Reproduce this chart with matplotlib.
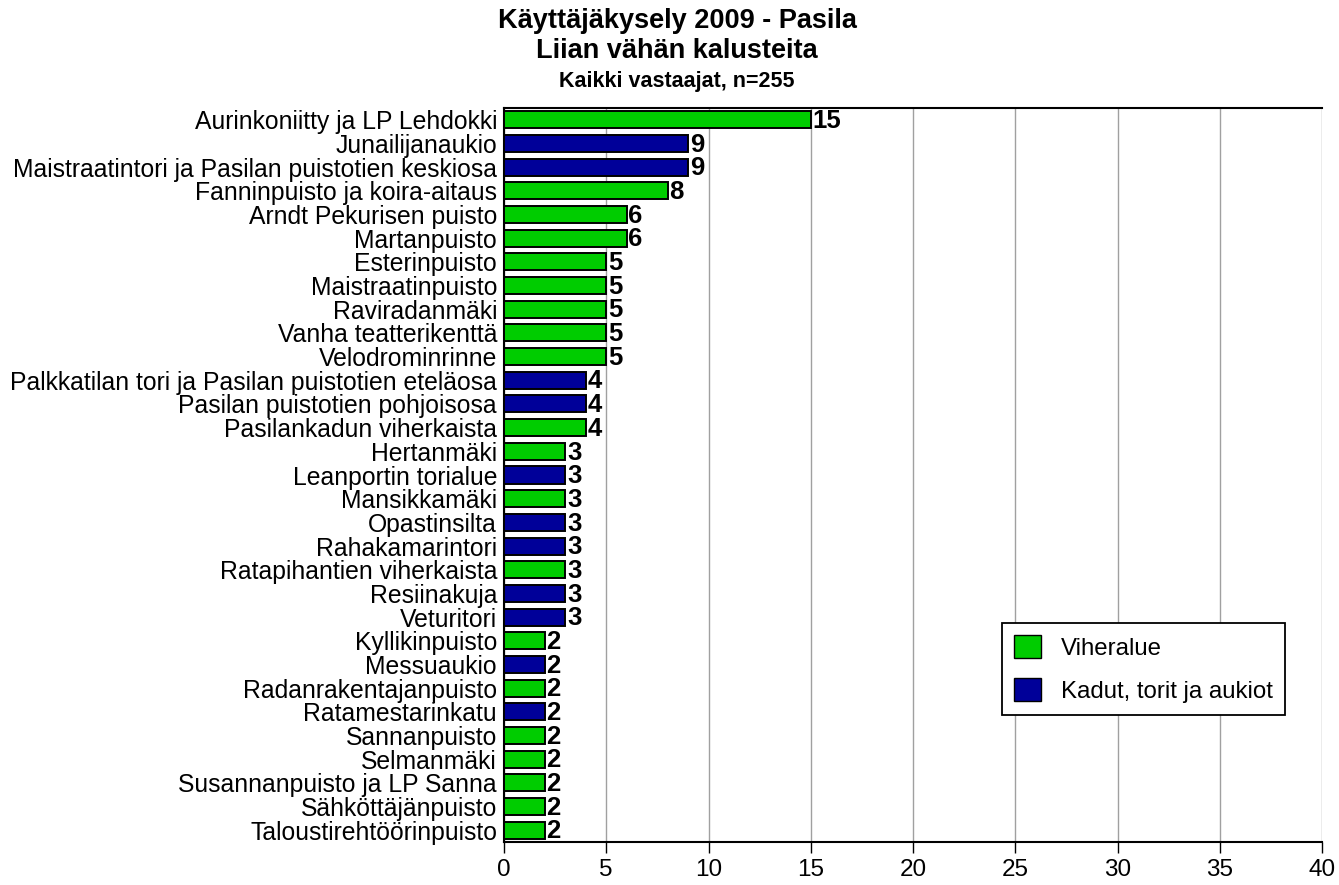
import numpy as np
import matplotlib.pyplot as plt
from matplotlib.patches import Patch

plt.rcParams['font.family'] = ['Liberation Sans', 'DejaVu Sans']

# Data
categories = [
    "Aurinkoniitty ja LP Lehdokki", "Junailijanaukio",
    "Maistraatintori ja Pasilan puistotien keskiosa", "Fanninpuisto ja koira-aitaus",
    "Arndt Pekurisen puisto", "Martanpuisto", "Esterinpuisto", "Maistraatinpuisto",
    "Raviradanmäki", "Vanha teatterikenttä", "Velodrominrinne",
    "Palkkatilan tori ja Pasilan puistotien eteläosa", "Pasilan puistotien pohjoisosa",
    "Pasilankadun viherkaista", "Hertanmäki", "Leanportin torialue", "Mansikkamäki",
    "Opastinsilta", "Rahakamarintori", "Ratapihantien viherkaista", "Resiinakuja",
    "Veturitori", "Kyllikinpuisto", "Messuaukio", "Radanrakentajanpuisto",
    "Ratamestarinkatu", "Sannanpuisto", "Selmanmäki", "Susannanpuisto ja LP Sanna",
    "Sähköttäjänpuisto", "Taloustirehtöörinpuisto",
]
values = [15, 9, 9, 8, 6, 6, 5, 5, 5, 5, 5, 4, 4, 4, 3, 3, 3, 3, 3, 3, 3, 3,
          2, 2, 2, 2, 2, 2, 2, 2, 2]
# V = viheralue, K = kadut, torit ja aukiot
types = ["V", "K", "K", "V", "V", "V", "V", "V", "V", "V", "V", "K", "K", "V",
         "V", "K", "V", "K", "K", "V", "K", "K", "V", "K", "V", "K", "V", "V",
         "V", "V", "V"]

GREEN = "#00CC00"
NAVY = "#000099"
colors = [GREEN if t == "V" else NAVY for t in types]

fig = plt.figure(figsize=(13.39, 8.85), dpi=100)
ax = fig.add_axes([504 / 1339, 1 - 842 / 885, 818 / 1339, 734 / 885])

y = np.arange(len(categories))
ax.barh(y, values, height=0.72, color=colors, edgecolor="black", linewidth=1.4, zorder=3)
for yi, v in zip(y, values):
    ax.text(v + 0.08, yi + 0.05, str(v), va="center", ha="left", fontsize=18.5,
            fontweight="bold", zorder=4)

ax.set_ylim(len(categories) - 0.5, -0.5)
ax.set_xlim(0, 40)
ax.set_xticks(np.arange(0, 41, 5))
ax.set_yticks(y)
ax.set_yticklabels(categories, fontsize=17.8)
ax.tick_params(axis="y", length=0, pad=5)
ax.tick_params(axis="x", length=8, width=1, labelsize=17.5, direction="out", pad=4)
ax.xaxis.grid(True, color="#a0a0a0", linewidth=1, zorder=0)

for side in ["left", "bottom", "top"]:
    ax.spines[side].set_linewidth(1.5)
    ax.spines[side].set_color("black")
ax.spines["right"].set_visible(False)

handles = [Patch(facecolor=GREEN, edgecolor="black", label="Viheralue"),
           Patch(facecolor=NAVY, edgecolor="black", label="Kadut, torit ja aukiot")]
leg = ax.legend(handles=handles, loc="upper left", bbox_to_anchor=(0.609, 0.298),
                borderaxespad=0, fontsize=17.3, fancybox=False, edgecolor="black",
                framealpha=1, handlelength=1.1, handleheight=1.1, labelspacing=0.75,
                borderpad=0.5, handletextpad=0.85)
leg.get_frame().set_linewidth(1.3)

fig.text(677 / 1339, 1 - 21 / 885, "Käyttäjäkysely 2009 - Pasila", ha="center",
         va="center", fontsize=19.5, fontweight="bold")
fig.text(677 / 1339, 1 - 51 / 885, "Liian vähän kalusteita", ha="center",
         va="center", fontsize=19.5, fontweight="bold")
fig.text(677 / 1339, 1 - 82 / 885, "Kaikki vastaajat, n=255", ha="center",
         va="center", fontsize=15.5, fontweight="bold")

fig.savefig("out.png", dpi=100)
